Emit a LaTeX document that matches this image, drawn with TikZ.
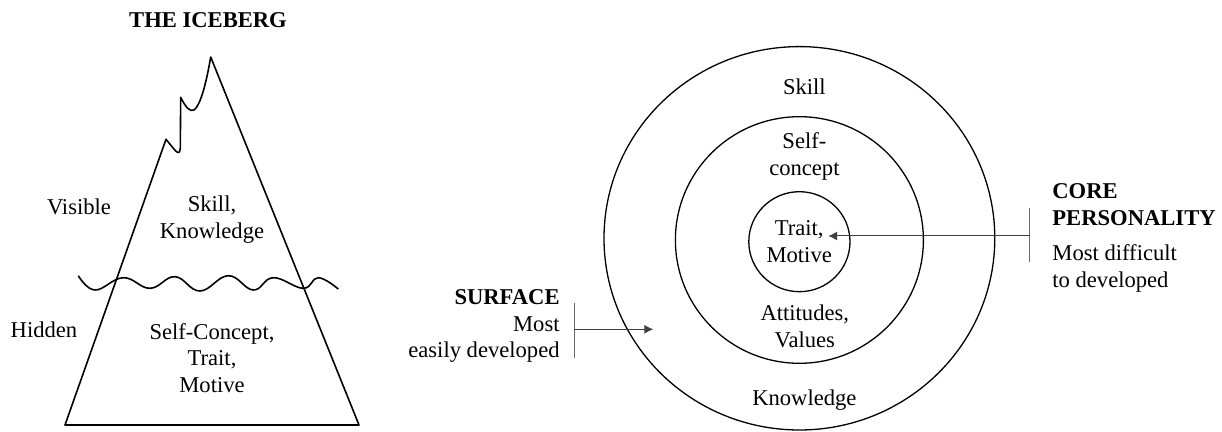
\documentclass[tikz,border=0pt]{standalone}
\usepackage{fontspec}
\setmainfont{Liberation Serif}
\usepackage{tikz}
\usetikzlibrary{positioning}
\usetikzlibrary{shapes.geometric}
\usetikzlibrary{arrows.meta}

\begin{document}
\begin{tikzpicture}[x=0.5pt, y=-0.5pt,
        every node/.style={font=\fontsize{11.3}{13.4}\selectfont, align=center, inner sep=0pt},
        ring/.style={draw, ellipse, line width=0.65pt, inner sep=0pt},
        pointer/.style={draw=black!75, line width=0.5pt, -{Latex[length=4.5pt, width=4.5pt]}},
        tick/.style={draw=black!60, line width=0.5pt}]
        \useasboundingbox (0,0) rectangle (1222,432);

        % iceberg
        \node (title) at (208,20) {\bfseries THE ICEBERG};
        \draw[line width=0.8pt, line join=round] (65,425) -- (166,139.3)
            .. controls (175,150) and (179.5,158) .. (180.3,148) -- (180.7,97.3)
            .. controls (186,108) and (190,112) .. (194,110)
            .. controls (200,106) and (206,85) .. (210.7,57)
            -- (359,425) -- cycle;
        \draw[line width=0.8pt] plot[smooth, tension=0.7] coordinates {(78.3,275.7) (95,290) (123.3,277.7)
            (150,288.3) (175,276.7) (200,291) (228.3,275.7) (253.3,290) (273.3,277.7)
            (303.3,288.3) (318.3,277.7) (338.3,289)};
        \node (visible) at (79,207) {Visible};
        \node (hidden) at (44,330) {Hidden};
        \node (above) at (212,220) {Skill,\\Knowledge};
        \node (below) at (212,358) {Self-Concept,\\Trait,\\Motive};

        % rings
        \node[ring, minimum width=195.4pt, minimum height=191.7pt] (outer) at (799.4,238.3) {};
        \node[ring, minimum width=124pt, minimum height=123.3pt] (middle) at (799.4,240) {};
        \node[ring, minimum width=50.6pt, minimum height=50pt] (inner) at (799.4,241.7) {};
        \foreach \n/\x/\y/\t in {skill/804.4/87/Skill, selfc/804.4/156.5/{Self-\\concept},
            trait/799.2/241.5/{Trait,\\Motive}, attval/804.8/326.5/{Attitudes,\\Values},
            knowl/804.4/400/Knowledge}
        {
            \node (\n) at (\x,\y) {\t};
        }

        % surface
        \node[anchor=east, align=right] (surface) at (560,326) {\textbf{SURFACE}\\Most\\easily developed};
        \coordinate (s-top) at (574,303);
        \coordinate (s-bot) at (574,358);
        \coordinate (s-mid) at (574,329.3);
        \coordinate (s-tip) at (653.3,329.3);
        \draw[tick] (s-top) -- (s-bot);
        \draw[pointer] (s-mid) -- (s-tip);

        % core
        \node[anchor=west, align=left] (core) at (1052,238) {\textbf{CORE}\\\textbf{PERSONALITY}\\[4pt]Most difficult\\to developed};
        \coordinate (c-top) at (1029.5,208);
        \coordinate (c-bot) at (1029.5,262);
        \coordinate (c-mid) at (1029.5,236);
        \coordinate (c-tip) at (828.2,236);
        \draw[tick] (c-top) -- (c-bot);
        \draw[pointer] (c-mid) -- (c-tip);
    \end{tikzpicture}
\end{document}
